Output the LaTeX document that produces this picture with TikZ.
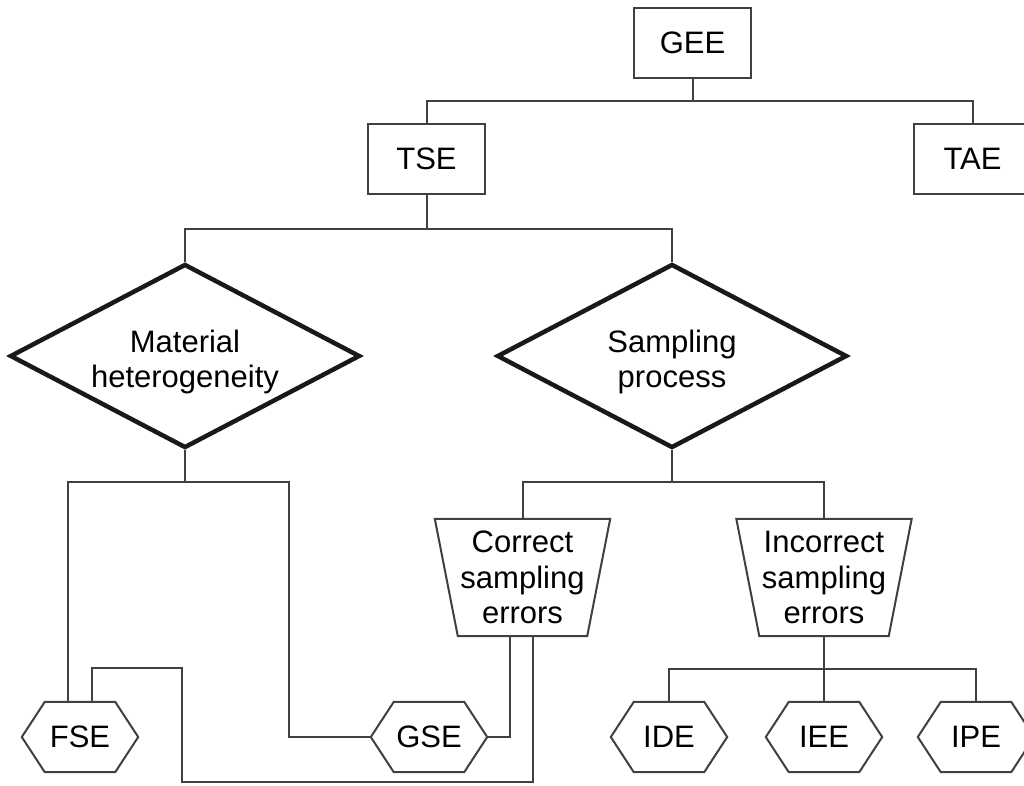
\documentclass[tikz,border=0pt]{standalone}
\usepackage{fontspec}
\setmainfont{Liberation Sans}
\usetikzlibrary{shapes.geometric}
\tikzset{
  every node/.style={font=\fontsize{31}{35.5}\selectfont, text=black},
  conn/.style={draw=black!75, line width=2pt},
  outline/.style={draw=black!75, line width=2pt, line join=miter},
  termbox/.style={draw=black!75, line width=2pt, rectangle,
    minimum width=117pt, minimum height=70pt, inner sep=0pt},
  decision/.style={draw=black!90, line width=4.5pt, diamond,
    minimum width=350pt, minimum height=184pt, inner sep=0pt},
  plainlbl/.style={align=center, inner sep=0pt},
  trapbox/.style={minimum width=175pt, minimum height=117pt,
    inner sep=0pt, align=center},
  hexbox/.style={minimum width=116pt, minimum height=70pt, inner sep=0pt},
}
% inverted trapezium drawn round a rectangular node
\newcommand\drawtrap[1]{\draw[outline] (#1.north west) -- (#1.north east)
  -- ([xshift=-23pt]#1.south east) -- ([xshift=23pt]#1.south west) -- cycle;}
% flat hexagon drawn round a rectangular node
\newcommand\drawhex[1]{\draw[outline] (#1.west) -- ([xshift=23pt]#1.north west)
  -- ([xshift=-23pt]#1.north east) -- (#1.east) -- ([xshift=-23pt]#1.south east)
  -- ([xshift=23pt]#1.south west) -- cycle;}

\begin{document}
\begin{tikzpicture}[x=1pt, y=-1pt]
\useasboundingbox (0,0) rectangle (1024,785);
\fill[white] (0,0) rectangle (1024,785);
\clip (0,0) rectangle (1024,785);

% top level boxes
\node[termbox] (gee) at (692.5,43) {GEE};
\node[termbox] (tse) at (426.5,158.5) {TSE};
\node[termbox] (tae) at (972.5,158.5) {TAE};

% decisions
\node[decision] (mh) at (185,356) {};
\node[plainlbl] (mhl) at ([yshift=-6pt]mh.center) {Material\\heterogeneity};
\node[decision] (sp) at (672,356) {};
\node[plainlbl] (spl) at ([yshift=-6pt]sp.center) {Sampling\\process};

% error classes
\node[trapbox] (cse) at (522.5,577.5) {Correct\\sampling\\errors};
\node[trapbox] (ise) at (824,577.5) {Incorrect\\sampling\\errors};
\drawtrap{cse}
\drawtrap{ise}

% individual errors
\node[hexbox] (fse) at (80,737) {FSE};
\node[hexbox] (gse) at (429,737) {GSE};
\node[hexbox] (ide) at (669,737) {IDE};
\node[hexbox] (iee) at (824,737) {IEE};
\node[hexbox] (ipe) at (976,737) {IPE};
\foreach \h in {fse,gse,ide,iee,ipe} {\drawhex{\h}}

% junction points
\coordinate (b1) at (692.5,101);
\coordinate (b2) at (426.5,229);
\coordinate (b3) at (185,482);
\coordinate (k1) at (289,482);
\coordinate (b4) at (672,482);
\coordinate (b5) at (824,669);
\coordinate (lowL) at (182,782);
\coordinate (upL) at (182,668);

% connectors
\draw[conn] (gee.south) -- (b1);
\draw[conn] (tse.north) |- (b1) -| (tae.north);
\draw[conn] (tse.south) -- (b2);
\draw[conn] (mh.north) |- (b2) -| (sp.north);
\draw[conn] (mh.south) -- (b3);
\draw[conn] ([xshift=-12pt]fse.north) |- (b3) -- (k1) |- (gse.west);
\draw[conn] (sp.south) -- (b4);
\draw[conn] (cse.north) |- (b4) -| (ise.north);
\draw[conn] ([xshift=-12.5pt]cse.south) |- (gse.east);
\draw[conn] ([xshift=10.5pt]cse.south) |- (lowL) -- (upL) -| ([xshift=12pt]fse.north);
\draw[conn] (ise.south) -- (iee.north);
\draw[conn] (ide.north) |- (b5) -| (ipe.north);
\end{tikzpicture}
\end{document}
